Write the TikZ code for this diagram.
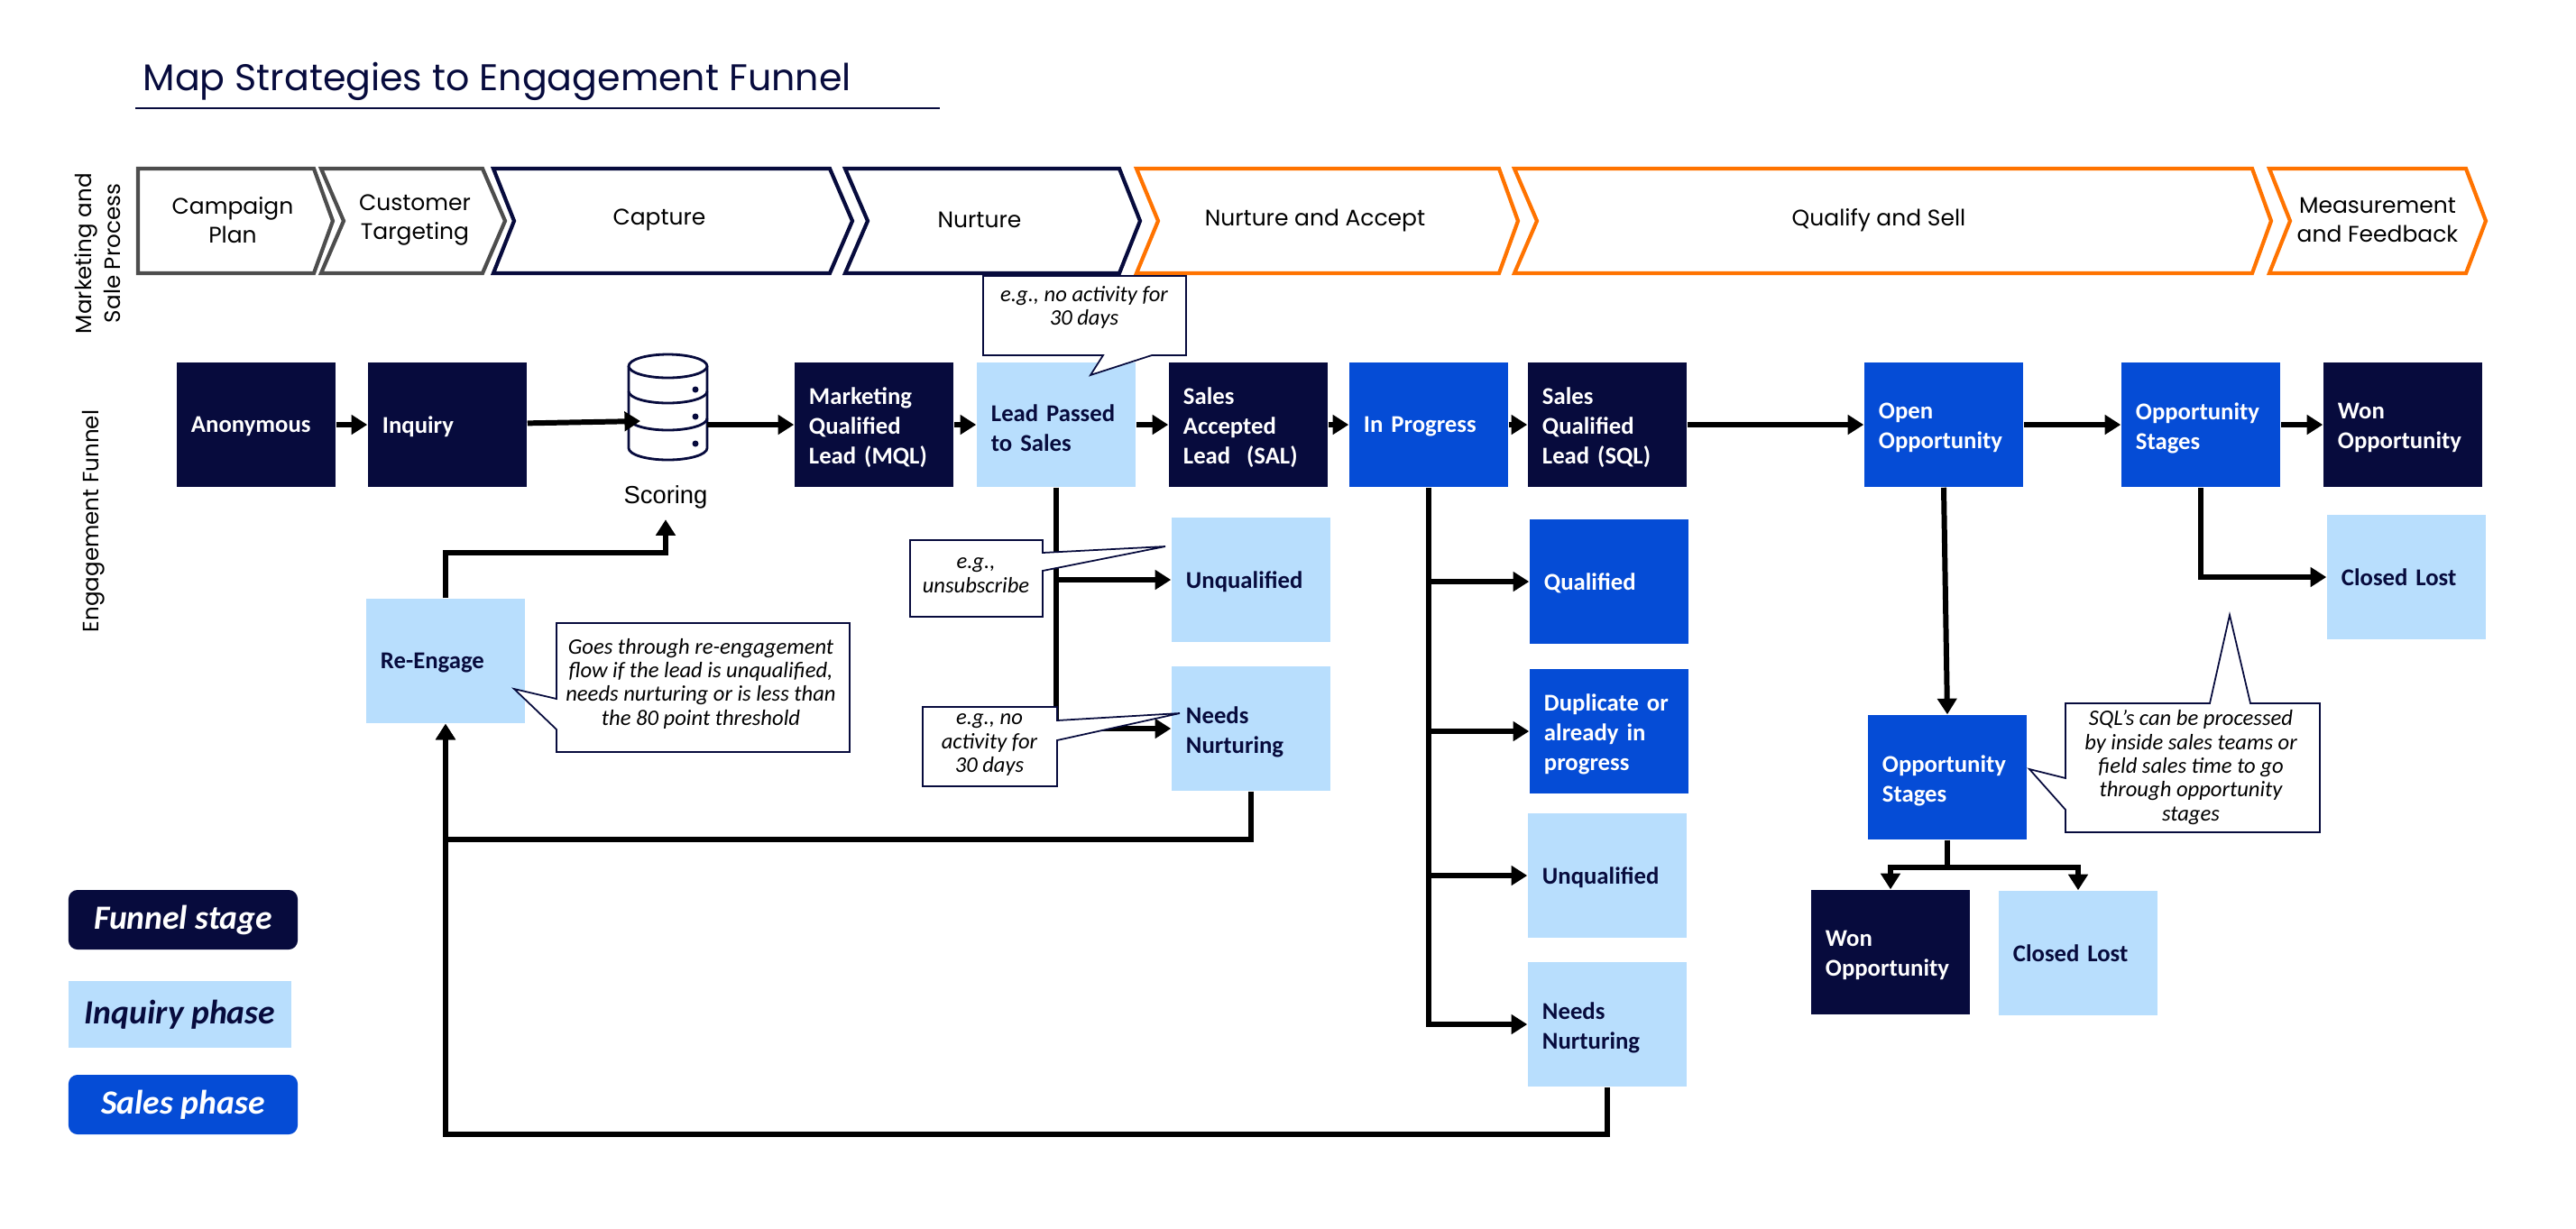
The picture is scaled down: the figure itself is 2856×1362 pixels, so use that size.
\documentclass[tikz,border=0pt]{standalone}
\usepackage{xcolor}
\usepackage{fontspec}
\usepackage{tikz}
\usetikzlibrary{arrows.meta}
\setmainfont{Carlito}
\newfontfamily\headfont{Poppins}
\newfontfamily\scorefont{Liberation Sans}
\definecolor{navy}{HTML}{070B3D}
\definecolor{salesblue}{HTML}{054CD6}
\definecolor{inqblue}{HTML}{B8DEFD}
\definecolor{procorange}{HTML}{FF7300}
\definecolor{procgray}{HTML}{4D4D4D}
\tikzset{
  stage/.style={rectangle, minimum height=1.38cm, minimum width=1.76cm, text width=1.44cm,
    inner xsep=0.16cm, inner ysep=0pt, align=left, font=\fontsize{7.6}{9.4}\selectfont\bfseries,
    execute at end node={\par\kern-2pt}},
  funnel/.style={stage, fill=navy, text=white},
  sales/.style={stage, fill=salesblue, text=white},
  inquiry/.style={stage, fill=inqblue, text=navy},
  flow/.style={line width=1.7pt, -{Triangle[length=5pt,width=6pt]}},
  chevlabel/.style={align=center, font=\headfont\fontsize{7.1}{9.2}\selectfont},
  sidelabel/.style={rotate=90, align=center, font=\headfont\fontsize{7}{9.2}\selectfont},
  noteline/.style={draw=navy, line width=0.5pt, fill=white},
  notetext/.style={align=center, font=\fontsize{7}{7.5}\selectfont\itshape},
  legend/.style={rectangle, minimum height=0.66cm, minimum width=2.54cm, inner sep=0pt,
    font=\fontsize{10.7}{12}\selectfont\bfseries\itshape},
}
\begin{document}
\begin{tikzpicture}[x=0.01cm,y=-0.01cm]
\useasboundingbox (0,0) rectangle (2856,1362);
\node[font=\headfont\fontsize{11.7}{14}\selectfont, text=navy, anchor=west, inner sep=0pt] (title) at (158,90) {Map Strategies to Engagement Funnel};
\draw[navy, line width=0.6pt] (150,120) -- (1042,120);
\foreach \nm/\xa/\xn/\xb/\xc/\col/\xt/\lab in {
  plan/153/153/348/369/procgray/258/{Campaign\\Plan},
  target/356/381/535/560/procgray/460/{Customer\\Targeting},
  capture/547/570/920/945/navy/731/{Capture},
  nurture/937/962/1241/1264/navy/1086/{Nurture},
  accept/1260/1284/1662/1683/procorange/1458/{Nurture and Accept},
  sell/1679/1704/2497/2518/procorange/2083/{Qualify and Sell},
  measure/2516/2539/2734/2756/procorange/2636/{Measurement\\and Feedback}}{
  \draw[\col, line width=1.2pt, fill=white] (\xa,187) -- (\xb,187) -- (\xc,245) -- (\xb,303) -- (\xa,303) -- (\xn,245) -- cycle;
  \node[chevlabel] (\nm) at (\xt,244) {\lab};}
\node[sidelabel] (sidea) at (108,281) {Marketing and\\Sale Process};
\node[sidelabel] (sideb) at (104,578) {Engagement Funnel};

\node[funnel] (anon) at (284,471) {Anonymous};
\node[funnel] (inq) at (496,471) {Inquiry};
\node[funnel] (mql) at (969,471) {Marketing\\Qualified\\Lead (MQL)};
\node[inquiry] (lead) at (1171,471) {Lead Passed\\to Sales};
\node[funnel] (sal) at (1384,471) {Sales\\Accepted\\Lead~ (SAL)};
\node[sales] (prog) at (1584,471) {In Progress};
\node[funnel] (sql) at (1782,471) {Sales\\Qualified\\Lead (SQL)};
\node[sales] (open) at (2155,471) {Open\\Opportunity};
\node[sales] (stages) at (2440,471) {Opportunity\\Stages};
\node[funnel] (won) at (2664,471) {Won\\Opportunity};
\node[inquiry] (unq) at (1387,643) {Unqualified};
\node[inquiry] (needs) at (1387,808) {Needs\\Nurturing};
\node[inquiry] (reeng) at (494,733) {Re-Engage};
\node[sales] (qual) at (1784,645) {Qualified};
\node[sales] (dup) at (1784,811) {Duplicate or\\already in\\progress};
\node[inquiry] (unqb) at (1782,971) {Unqualified};
\node[inquiry] (needsb) at (1782,1136) {Needs\\Nurturing};
\node[inquiry] (lost) at (2668,640) {Closed Lost};
\node[sales] (stagesb) at (2159,862) {Opportunity\\Stages};
\node[funnel] (wonb) at (2096,1056) {Won\\Opportunity};
\node[inquiry] (lostb) at (2304,1057) {Closed Lost};

\draw[navy, line width=0.8pt, fill=white] (697,406) -- (697,497) arc[start angle=180,end angle=0,x radius=43.5,y radius=13] -- (784,406);
\draw[navy, line width=0.8pt, fill=white] (740.5,406) ellipse[x radius=43.5,y radius=13];
\draw[navy, line width=0.8pt] (697,434) arc[start angle=180,end angle=0,x radius=43.5,y radius=13];
\draw[navy, line width=0.8pt] (697,464) arc[start angle=180,end angle=0,x radius=43.5,y radius=13];
\foreach \dy in {432,462,492}{
  \fill[navy] (771,\dy) circle (3.5);}
\node[font=\scorefont\fontsize{7.8}{9}\selectfont] (scoring) at (738,551) {Scoring};
\coordinate (dbin) at (710,467);
\coordinate (dbout) at (784,471);
\coordinate (reup) at (494,613);

\draw[flow] (anon) -- (inq);
\draw[flow] (inq) -- (dbin);
\draw[flow] (dbout) -- (mql);
\draw[flow] (mql) -- (lead);
\draw[flow] (lead) -- (sal);
\draw[flow] (sal) -- (prog);
\draw[flow] (prog) -- (sql);
\draw[flow] (sql) -- (open);
\draw[flow] (open) -- (stages);
\draw[flow] (stages) -- (won);
\draw[flow] (lead.south) |- (unq.west);
\draw[flow] (lead.south) |- (needs.west);
\draw[flow] (prog.south) |- (qual.west);
\draw[flow] (prog.south) |- (dup.west);
\draw[flow] (prog.south) |- (unqb.west);
\draw[flow] (prog.south) |- (needsb.west);
\draw[flow] (open.south) -- (stagesb.north);
\draw[flow] (stages.south) |- (lost.west);
\draw[flow] (stagesb.south) -- ++(0,30) -| (wonb.north);
\draw[flow] (stagesb.south) -- ++(0,30) -| (lostb.north);
\draw[flow] (reeng.north) -- (reup) -| (scoring.south);
\draw[flow] (needs.south) -- ++(0,53) -| (reeng.south);
\draw[flow] (needsb.south) -- ++(0,52) -| (reeng.south);

\draw[noteline] (1090,306) -- (1315,306) -- (1315,394) -- (1277,394) -- (1209,416) -- (1223,394) -- (1090,394) -- cycle;
\node[notetext] (notea) at (1202,341) {e.g., no activity for\\30 days};
\draw[noteline] (1009,599) -- (1156,599) -- (1156,613) -- (1292,606) -- (1156,633) -- (1156,684) -- (1009,684) -- cycle;
\node[notetext] (noteb) at (1082,638) {e.g.,\\unsubscribe};
\draw[noteline] (1023,784) -- (1172,784) -- (1172,799) -- (1308,791) -- (1172,821) -- (1172,872) -- (1023,872) -- cycle;
\node[notetext] (notec) at (1097,826) {e.g., no\\activity for\\30 days};
\draw[noteline] (617,691) -- (942,691) -- (942,834) -- (617,834) -- (617,809) -- (570,764) -- (617,775) -- cycle;
\node[notetext] (noted) at (777,758) {Goes through re-engagement\\flow if the lead is unqualified,\\needs nurturing or is less than\\the 80 point threshold};
\draw[noteline] (2290,780) -- (2450,780) -- (2472,682) -- (2495,780) -- (2572,780) -- (2572,923) -- (2290,923) -- (2290,898) -- (2250,853) -- (2290,863) -- cycle;
\node[notetext] (notee) at (2429,851) {SQL's can be processed\\by inside sales teams or\\field sales time to go\\through opportunity\\stages};

\node[legend, fill=navy, text=white, rounded corners=0.1cm] (keya) at (203,1020) {Funnel stage};
\node[legend, fill=inqblue, text=navy, minimum width=2.47cm, minimum height=0.74cm] (keyb) at (199.5,1125) {Inquiry phase};
\node[legend, fill=salesblue, text=white, rounded corners=0.1cm] (keyc) at (203,1225) {Sales phase};
\end{tikzpicture}
\end{document}
